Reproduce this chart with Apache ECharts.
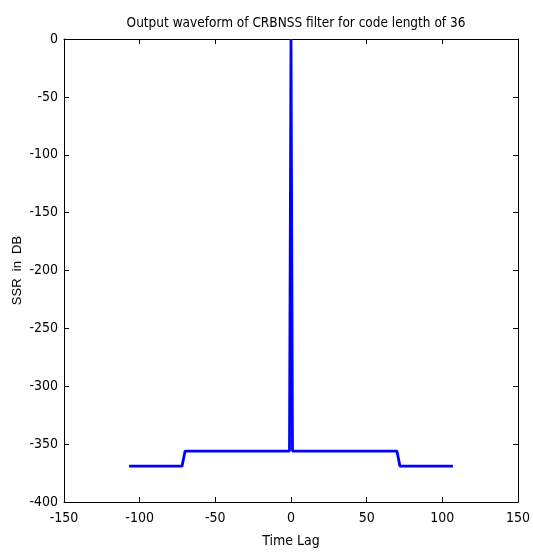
<!DOCTYPE html>
<html>
<head>
<meta charset="utf-8">
<script src="https://cdn.jsdelivr.net/npm/echarts@6/dist/echarts.min.js"></script>
<style>
  html, body { margin: 0; padding: 0; background: #fff; }
  #chart { width: 533px; height: 556px; }
</style>
</head>
<body>
<div id="chart"></div>
<script>
// Time lag samples and filter output (SSR in dB)
const timeLag = [-107, -72, -70, -1, 0, 1, 70, 72, 107];
const ssrDb   = [-369, -369, -356, -356, 0, -356, -356, -369, -369];

const xTicks = { min: -150, max: 150, step: 50 };
const yTicks = { min: -400, max: 0, step: 50 };

const narrow = '"DejaVu Sans Condensed", "Liberation Sans", Arial, sans-serif';
const regular = '"Liberation Sans", Arial, sans-serif';

const points = timeLag.map((t, i) => [t, ssrDb[i]]);

const tickStyle = { show: true, inside: true, length: 5, lineStyle: { color: '#000', width: 1 } };
const lineStyle = { show: true, onZero: false, lineStyle: { color: '#000', width: 1 } };

const chart = echarts.init(document.getElementById('chart'), null, { renderer: 'canvas' });
chart.setOption({
  animation: false,
  backgroundColor: '#fff',
  title: {
    text: 'Output waveform of CRBNSS filter for code length of 36',
    left: 291, top: 11, textAlign: 'center',
    textStyle: { fontFamily: narrow, fontSize: 13.5, fontWeight: 'normal', color: '#000' }
  },
  grid: { left: 64, right: 14, top: 39, bottom: 54 },
  xAxis: [
    {
      type: 'value', min: xTicks.min, max: xTicks.max, interval: xTicks.step,
      name: 'Time Lag', nameLocation: 'middle', nameGap: 32,
      nameTextStyle: { fontFamily: narrow, fontSize: 14, color: '#000' },
      axisLine: lineStyle, axisTick: tickStyle, splitLine: { show: false },
      axisLabel: { margin: 9, fontFamily: narrow, fontSize: 14, color: '#000' }
    },
    {
      type: 'value', position: 'top', min: xTicks.min, max: xTicks.max, interval: xTicks.step,
      axisLine: lineStyle, axisTick: tickStyle, splitLine: { show: false },
      axisLabel: { show: false }
    }
  ],
  yAxis: [
    {
      type: 'value', min: yTicks.min, max: yTicks.max, interval: yTicks.step,
      name: 'SSR  in  DB', nameLocation: 'middle', nameGap: 40, nameRotate: 90,
      nameMoveOverlap: false,
      nameTextStyle: { fontFamily: regular, fontSize: 13, color: '#000' },
      axisLine: lineStyle, axisTick: tickStyle, splitLine: { show: false },
      axisLabel: { margin: 6, fontFamily: narrow, fontSize: 14, color: '#000' }
    },
    {
      type: 'value', position: 'right', min: yTicks.min, max: yTicks.max, interval: yTicks.step,
      axisLine: lineStyle, axisTick: tickStyle, splitLine: { show: false },
      axisLabel: { show: false }
    }
  ],
  series: [{
    type: 'line',
    data: points,
    showSymbol: false,
    lineStyle: { color: '#0000ff', width: 2.8 },
    clip: true
  }]
});
</script>
</body>
</html>
